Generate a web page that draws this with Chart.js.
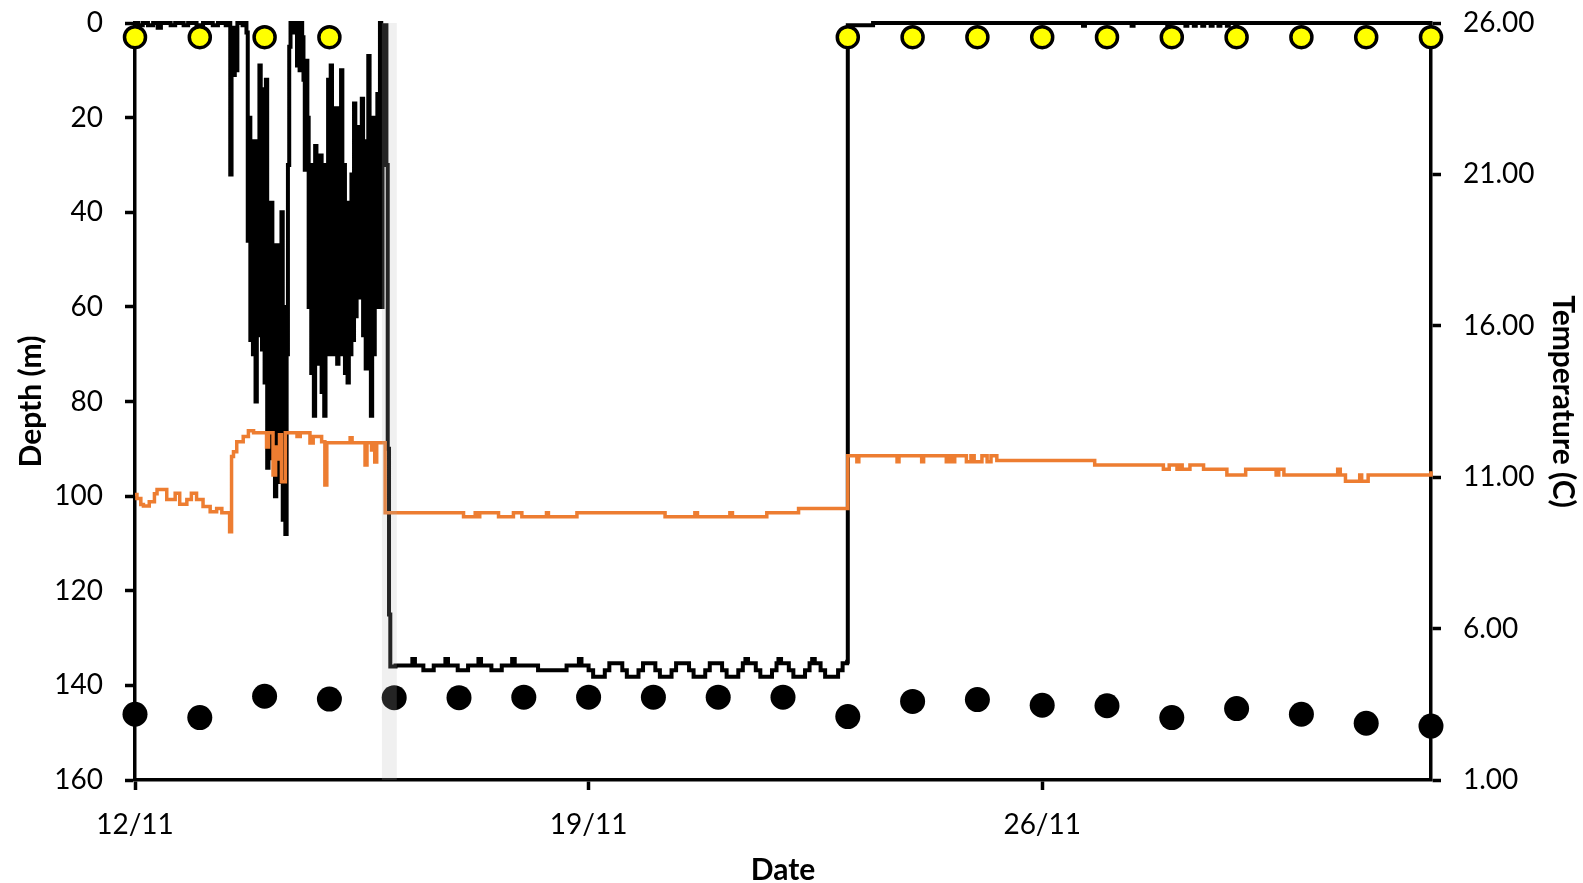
<!DOCTYPE html>
<html>
<head>
<meta charset="utf-8">
<script src="https://cdn.jsdelivr.net/npm/chart.js@4.4.1/dist/chart.umd.min.js"></script>
<style>
  html, body { margin: 0; padding: 0; background: #fff; }
  #wrap { width: 1583px; height: 883px; }
</style>
</head>
<body>
<div id="wrap"><canvas id="c" width="1583" height="883"></canvas></div>
<script>
// ---- x axis (days since 12/11) ----
const tickDays = [0, 7, 14];
const tickLabels = ['12/11', '19/11', '26/11'];

// ---- depth trace (m) ----
const depthTime = [
  0, 0.05, 0.12, 0.20, 0.28, 0.35, 0.40, 0.55, 0.62, 0.75, 0.82, 0.95, 1.00, 1.05, 1.20, 1.28, 1.40, 1.45,
  1.47, 1.49, 1.52, 1.54, 1.56, 1.58, 1.66, 1.70,
  1.72, 1.74, 1.76, 1.78, 1.80, 1.82, 1.84, 1.86, 1.88, 1.90, 1.92, 1.94, 1.96, 1.98, 2.00, 2.02, 2.04, 2.06,
  2.08, 2.10, 2.12, 2.14, 2.16, 2.18, 2.20, 2.22, 2.24, 2.26, 2.28, 2.30, 2.32, 2.34, 2.36, 2.38, 2.40, 2.42,
  2.44, 2.46, 2.48, 2.50, 2.52, 2.54, 2.56, 2.58, 2.60, 2.62, 2.64, 2.66,
  2.68, 2.70, 2.72, 2.74, 2.76, 2.78, 2.80, 2.82, 2.84, 2.86, 2.88, 2.90, 2.92, 2.94, 2.96, 2.98,
  3.00, 3.02, 3.04, 3.06, 3.08, 3.10, 3.12, 3.14, 3.16, 3.18, 3.20, 3.22, 3.24, 3.26, 3.28, 3.30,
  3.32, 3.34, 3.36, 3.38, 3.40, 3.42, 3.44, 3.46, 3.48, 3.50, 3.52, 3.54, 3.56, 3.58, 3.60, 3.62,
  3.64, 3.66, 3.68, 3.70, 3.72, 3.74, 3.76, 3.78, 3.80, 3.82, 3.84, 3.86,
  3.88, 3.90, 3.92, 3.94,
  4.02, 4.28, 4.32, 4.45, 4.61, 4.79, 4.83, 4.98, 5.14, 5.30, 5.34, 5.50, 5.66, 5.82, 5.86, 6.22, 6.66, 6.85, 6.89,
  7.00, 7.07, 7.25, 7.32, 7.52, 7.59, 7.77, 7.84, 8.03, 8.10, 8.28, 8.35, 8.55, 8.62, 8.80, 8.87,
  9.06, 9.13, 9.31, 9.38, 9.42, 9.46, 9.58, 9.65, 9.83, 9.90, 9.93, 9.97,
  10.09, 10.16, 10.34, 10.41, 10.45, 10.49, 10.58, 10.65, 10.85, 10.92, 10.99,
  11.00, 11.39, 14.63, 14.66, 15.38, 15.41, 15.93, 15.96, 16.21, 16.24, 16.34, 16.37, 16.47, 16.50,
  16.60, 16.63, 16.72, 16.75, 16.85, 16.88, 16.98, 17.01, 20.00
];
const depthValues = [
  0, 0.5, 0, 0.5, 0, 1, 0, 0.5, 0, 0.5, 0, 0.5, 1, 0, 0.5, 0, 0.5, 0,
  32, 1, 11, 3, 10, 0, 0.5, 0,
  2, 46, 20, 67, 30, 70, 25, 80, 35, 66, 9, 55, 69, 14, 76, 12, 94, 40,
  85, 38, 92, 55, 100, 47, 96, 50, 97, 40, 105, 60, 108, 70, 30, 5, 0, 1,
  0, 2, 0, 9, 1, 10, 0, 3, 12, 31, 8, 20,
  60, 30, 74, 40, 83, 26, 72, 35, 65, 28, 78, 45, 83, 30, 70, 12,
  50, 9, 70, 35, 68, 18, 72, 40, 65, 10, 70, 30, 74, 45, 76, 38,
  70, 32, 67, 17, 62, 30, 55, 22, 58, 16, 66, 35, 73, 25, 7, 55,
  83, 20, 70, 35, 60, 15, 50, 0, 60, 5, 1, 0.5,
  30, 90, 125, 136,
  135.8, 134.4, 135.8, 136.8, 135.8, 134.4, 135.8, 136.8, 135.8, 134.4, 135.8, 136.8, 135.8, 134.4, 135.8, 136.8, 135.8, 134.4, 135.8,
  136.8, 138.2, 136.8, 135.3, 136.8, 138.2, 136.8, 135.3, 136.8, 138.2, 136.8, 135.3, 136.8, 138.2, 136.8, 135.3,
  136.8, 138.2, 136.8, 135.3, 134.4, 135.3, 136.8, 138.2, 136.8, 135.3, 134.4, 135.3,
  136.8, 138.2, 136.8, 135.3, 134.4, 135.3, 136.8, 138.2, 136.8, 135.3, 135.0,
  0.5, 0, 0.6, 0, 0.6, 0, 0.6, 0, 0.6, 0, 0.6, 0, 0.6, 0,
  0.6, 0, 0.6, 0, 0.6, 0, 0.6, 0, 0
];

// ---- temperature trace (C) ----
const tempTime = [
  0.00, 0.03, 0.09, 0.13, 0.22, 0.30, 0.34, 0.49, 0.62, 0.69, 0.80, 0.87, 0.95, 1.05, 1.16, 1.26, 1.34,
  1.46, 1.49, 1.52, 1.57, 1.67, 1.75, 1.83, 2.03, 2.06, 2.13, 2.17, 2.19, 2.23, 2.26, 2.32, 2.50, 2.55,
  2.70, 2.75, 2.88, 2.93, 2.96, 3.32, 3.35, 3.55, 3.58, 3.65, 3.67, 3.70, 3.73, 3.86,
  5.07, 5.25, 5.28, 5.32, 5.61, 5.84, 5.97, 6.35, 6.38, 6.82, 8.18, 8.64, 8.68, 9.18, 9.22, 9.75, 10.24,
  11.00, 11.14, 11.17, 11.76, 11.79, 12.14, 12.17, 12.52, 12.56, 12.60, 12.65, 12.83, 12.90, 12.95, 13.07,
  13.15, 13.21, 13.30, 14.81, 15.87, 15.96, 16.08, 16.12, 16.16, 16.28, 16.49, 16.85, 17.14, 17.61, 17.65,
  17.73, 18.56, 18.60, 18.68, 18.90, 18.93, 19.03, 20.00
];
const tempValues = [
  10.43, 10.30, 10.10, 10.05, 10.19, 10.45, 10.59, 10.26, 10.47, 10.11, 10.26, 10.47, 10.26, 10.03, 9.86, 9.97, 9.83,
  9.20, 11.68, 11.84, 12.17, 12.34, 12.53, 12.47, 12.00, 12.47, 11.07, 12.00, 11.60, 12.40, 10.85, 12.47, 12.34, 12.47,
  12.13, 12.34, 12.17, 10.74, 12.14, 12.30, 12.14, 11.40, 12.14, 11.90, 12.14, 11.50, 12.14, 9.83,
  9.69, 9.83, 9.69, 9.83, 9.69, 9.83, 9.69, 9.83, 9.69, 9.83, 9.69, 9.83, 9.69, 9.83, 9.69, 9.83, 9.97,
  11.71, 11.51, 11.71, 11.51, 11.71, 11.51, 11.71, 11.51, 11.71, 11.51, 11.71, 11.51, 11.71, 11.51, 11.71,
  11.51, 11.71, 11.55, 11.40, 11.26, 11.40, 11.26, 11.40, 11.26, 11.40, 11.26, 11.07, 11.26, 11.07, 11.26,
  11.07, 11.26, 11.07, 10.87, 11.07, 10.87, 11.07, 11.20
];

// ---- daily markers ----
const dailyDays = [0, 1, 2, 3, 4, 5, 6, 7, 8, 9, 10, 11, 12, 13, 14, 15, 16, 17, 18, 19, 20];
const dailyBlackDepth = [146.1, 146.8, 142.3, 142.9, 142.6, 142.6, 142.5, 142.5, 142.5, 142.5, 142.5,
  146.6, 143.4, 143.0, 144.2, 144.3, 146.8, 144.9, 146.1, 148.0, 148.6];
const yellowDays = [0, 1, 2, 3, 11, 12, 13, 14, 15, 16, 17, 18, 19, 20];
const yellowDepth = [3, 3, 3, 3, 3, 3, 3, 3, 3, 3, 3, 3, 3, 3];

// ---- shaded interval (days) ----
const bandDays = [3.81, 4.04];

const pts = (xs, ys) => xs.map((x, i) => ({ x: x, y: ys[i] }));

const bandPlugin = {
  id: 'band',
  afterDatasetsDraw(chart) {
    const { ctx, chartArea, scales } = chart;
    const x0 = scales.x.getPixelForValue(bandDays[0]);
    const x1 = scales.x.getPixelForValue(bandDays[1]);
    ctx.save();
    ctx.fillStyle = 'rgba(180,180,180,0.2)';
    ctx.fillRect(x0, chartArea.top, x1 - x0, chartArea.bottom - chartArea.top);
    ctx.restore();
  }
};

Chart.defaults.font.family = 'Lato, "Open Sans", sans-serif';
Chart.defaults.color = '#000';

const axisGrid = { drawOnChartArea: false, drawTicks: true, tickLength: 10, tickWidth: 3.5, tickColor: '#000' };
const axisBorder = { display: true, color: '#000', width: 3.5 };

new Chart(document.getElementById('c'), {
  type: 'line',
  data: {
    datasets: [
      {
        label: 'Surface',
        type: 'scatter',
        data: pts(yellowDays, yellowDepth),
        yAxisID: 'y',
        pointRadius: 10.5,
        pointBorderWidth: 3.5,
        pointBorderColor: '#000',
        pointBackgroundColor: '#FFFF00',
        showLine: false,
        clip: false,
        order: 0
      },
      {
        label: 'Daily max depth',
        type: 'scatter',
        data: pts(dailyDays, dailyBlackDepth),
        yAxisID: 'y',
        pointRadius: 12.5,
        pointBorderWidth: 0,
        pointBackgroundColor: '#000',
        showLine: false,
        clip: false,
        order: 1
      },
      {
        label: 'Temperature',
        data: pts(tempTime, tempValues),
        yAxisID: 'y2',
        borderColor: '#ED7D31',
        borderWidth: 3.5,
        pointRadius: 0,
        stepped: true,
        clip: false,
        order: 2
      },
      {
        label: 'Depth',
        data: pts(depthTime, depthValues),
        yAxisID: 'y',
        borderColor: '#000',
        borderWidth: 4,
        pointRadius: 0,
        stepped: true,
        clip: false,
        order: 3
      }
    ]
  },
  options: {
    responsive: false,
    animation: false,
    events: [],
    layout: { padding: { top: 23, left: 0, right: 0, bottom: 0 } },
    plugins: { legend: { display: false }, tooltip: { enabled: false } },
    scales: {
      x: {
        type: 'linear',
        position: 'bottom',
        min: 0,
        max: 20,
        afterBuildTicks: (s) => { s.ticks = tickDays.map(v => ({ value: v })); },
        afterFit: (s) => { s.height = 103; },
        ticks: {
          padding: 18,
          font: { size: 28 },
          maxRotation: 0,
          autoSkip: false,
          callback: (v) => { const i = tickDays.indexOf(v); return i >= 0 ? tickLabels[i] : ''; }
        },
        grid: axisGrid,
        border: axisBorder,
        title: { display: true, text: 'Date', font: { size: 30, weight: 'bold', lineHeight: 1 }, padding: { top: 0, bottom: -2 } }
      },
      y: {
        position: 'left',
        reverse: true,
        min: 0,
        max: 160,
        afterFit: (s) => { s.width = 135; s.paddingTop = 10; s.paddingBottom = 10; },
        ticks: { stepSize: 20, padding: 22, font: { size: 28 } },
        grid: axisGrid,
        border: axisBorder,
        title: { display: true, text: 'Depth (m)', font: { size: 30, weight: 'bold', lineHeight: 1 }, padding: { top: 16, bottom: 0 } }
      },
      y2: {
        position: 'right',
        min: 1,
        max: 26,
        afterFit: (s) => { s.width = 152; s.paddingTop = 10; s.paddingBottom = 10; },
        ticks: { stepSize: 5, padding: 22, font: { size: 28 }, callback: (v) => Number(v).toFixed(2) },
        grid: axisGrid,
        border: axisBorder,
        title: { display: true, text: 'Temperature (C)', font: { size: 30, weight: 'bold', lineHeight: 1 }, padding: { top: 5, bottom: 0 } }
      }
    }
  },
  plugins: [bandPlugin]
});
</script>
</body>
</html>
